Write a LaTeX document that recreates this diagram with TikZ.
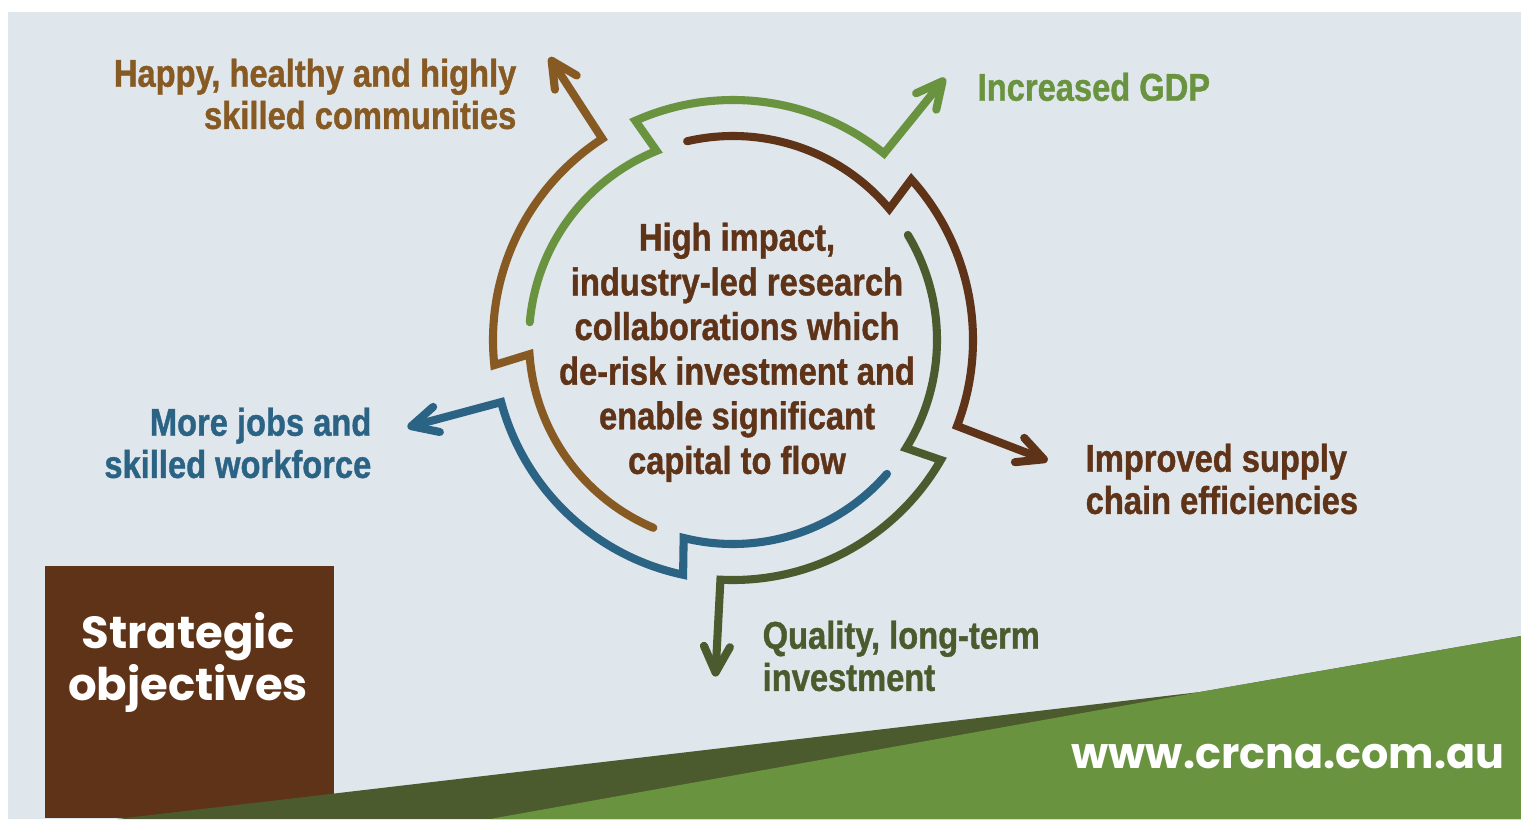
\documentclass[tikz,border=0pt]{standalone}
\usepackage{fontspec}
\usetikzlibrary{arrows.meta}

\newfontfamily\labelfont{Liberation Sans}[FakeStretch=0.845, FakeBold=1]
\newfontfamily\brandfont{Poppins}

\definecolor{panelbg}{HTML}{DFE6EC}
\definecolor{crcbrown}{HTML}{5F3318}
\definecolor{crcochre}{HTML}{875A23}
\definecolor{crcgreen}{HTML}{6A9340}
\definecolor{crcolive}{HTML}{4B5B2D}
\definecolor{crcblue}{HTML}{2B6385}

\begin{document}
\begin{tikzpicture}[
		% Styles
		ring/.style={line width=2.3pt, line cap=round, line join=miter, -{Straight Barb[length=2.6mm, width=2.6mm, round]}},
		outcome/.style={font=\labelfont\bfseries\fontsize{11}{12}\selectfont, inner sep=0pt},
		brandtext/.style={text=white, inner sep=0pt, font=\brandfont\bfseries}
		]
		
		% =========================================================
		% 1. BACKGROUND, TITLE BOX AND GREEN STRIP
		% =========================================================
		\useasboundingbox (0,0) rectangle (15.21,8.19);
		\fill[white] (0,0) rectangle (15.21,8.19);
		\fill[panelbg] (0.08,0) rectangle (15.21,8.07);
		
		\node[fill=crcbrown, minimum width=2.89cm, minimum height=2.52cm, anchor=south west, inner sep=0pt] (titlebox) at (0.44,0) {};
		\node[brandtext, align=center, anchor=north, font=\brandfont\bfseries\fontsize{12.8}{14.8}\selectfont] (title) at (1.88,2.07) {Strategic\\objectives};
		
		\fill[crcolive] (1.17,0) -- (12.0,1.27) -- (15.21,1.83) -- (15.21,0) -- cycle;
		\fill[crcgreen] (4.9,0) -- (12.0,1.27) -- (15.21,1.83) -- (15.21,0) -- cycle;
		
		\node[brandtext, anchor=base east, font=\brandfont\bfseries\fontsize{12.2}{14}\selectfont] (url) at (15.05,0.51) {www.crcna.com.au};
		
		% =========================================================
		% 2. THE RING: five arms, each stepping out and leaving as an arrow
		% =========================================================
		\coordinate (hub) at (7.33,4.79);
		
		% GDP arm
		\draw[ring, crcgreen] ([shift={(175:2.04)}]hub) arc[start angle=175, end angle=112, radius=2.04]
		-- ([shift={(114:2.4)}]hub) arc[start angle=114, end angle=51, radius=2.4] -- ([shift={(51:3.37)}]hub);
		
		% Supply chain arm
		\draw[ring, crcbrown] ([shift={(103:2.04)}]hub) arc[start angle=103, end angle=40, radius=2.04]
		-- ([shift={(42:2.4)}]hub) arc[start angle=42, end angle=-21, radius=2.4] -- ([shift={(-21:3.37)}]hub);
		
		% Investment arm
		\draw[ring, crcolive] ([shift={(31:2.04)}]hub) arc[start angle=31, end angle=-32, radius=2.04]
		-- ([shift={(-30:2.4)}]hub) arc[start angle=-30, end angle=-93, radius=2.4] -- ([shift={(-93:3.37)}]hub);
		
		% Jobs arm
		\draw[ring, crcblue] ([shift={(-41:2.04)}]hub) arc[start angle=-41, end angle=-104, radius=2.04]
		-- ([shift={(-102:2.4)}]hub) arc[start angle=-102, end angle=-165, radius=2.4] -- ([shift={(-165:3.37)}]hub);
		
		% Communities arm
		\draw[ring, crcochre] ([shift={(247:2.04)}]hub) arc[start angle=247, end angle=184, radius=2.04]
		-- ([shift={(186:2.4)}]hub) arc[start angle=186, end angle=123, radius=2.4] -- ([shift={(123:3.37)}]hub);
		
		% Centre statement
		\node[text=crcbrown, align=center, anchor=north, inner sep=0pt, font=\labelfont\bfseries\fontsize{11}{12.7}\selectfont] (core) at (7.37,5.97) {High impact,\\industry-led research\\collaborations which\\de-risk investment and\\enable significant\\capital to flow};
		
		% =========================================================
		% 3. OUTCOME LABELS
		% =========================================================
		\node[outcome, text=crcochre, align=right, anchor=north east] (communities) at (5.17,7.61) {Happy, healthy and highly\\skilled communities};
		\node[outcome, text=crcgreen, anchor=north west] (gdp) at (9.77,7.47) {Increased GDP};
		\node[outcome, text=crcbrown, align=left, anchor=north west] (supply) at (10.85,3.76) {Improved supply\\chain efficiencies};
		\node[outcome, text=crcolive, align=left, anchor=north west] (investment) at (7.62,1.99) {Quality, long-term\\investment};
		\node[outcome, text=crcblue, align=right, anchor=north east] (jobs) at (3.72,4.12) {More jobs and\\skilled workforce};
		
	\end{tikzpicture}
\end{document}
